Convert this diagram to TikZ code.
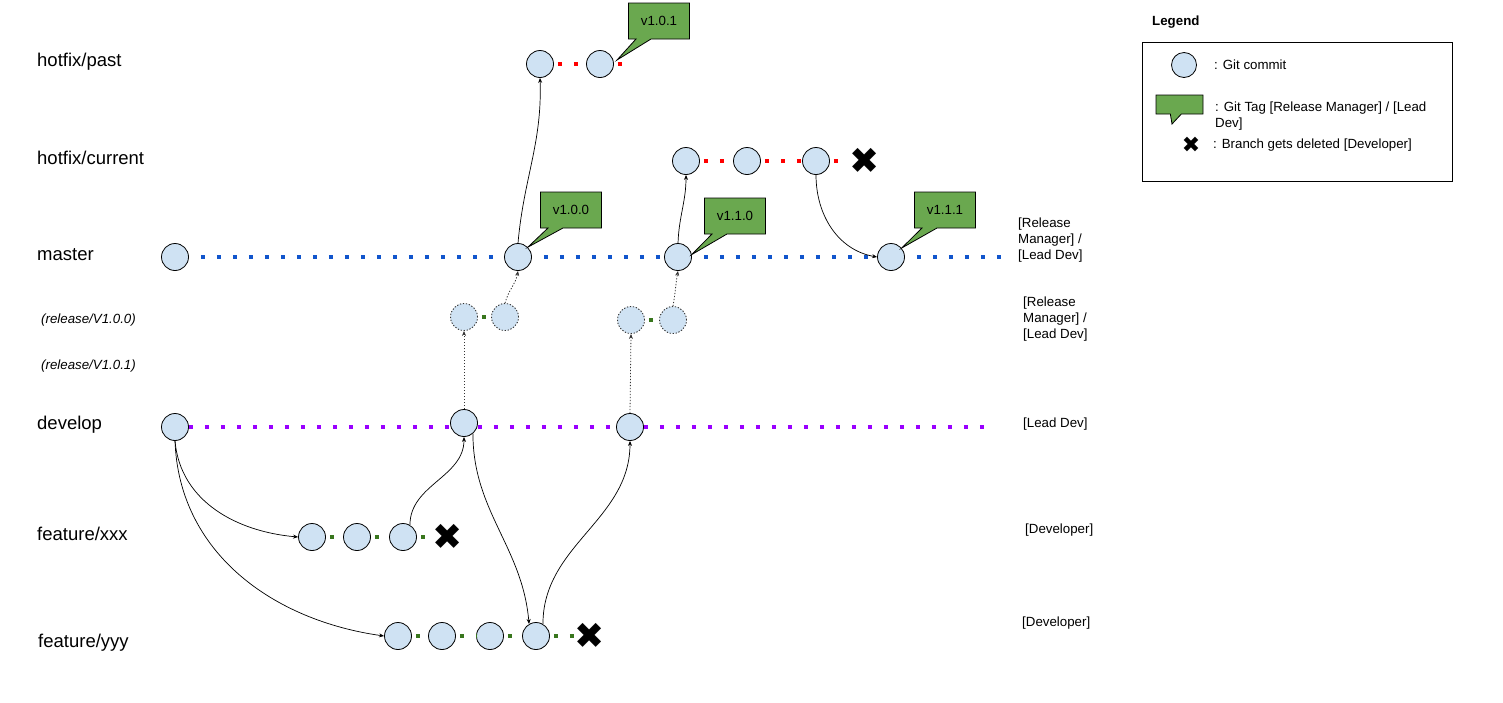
\documentclass[tikz,border=0pt]{standalone}
\usepackage{fontspec}
\setmainfont{Liberation Sans}
\newfontfamily\symfont{DejaVu Sans}
\usetikzlibrary{arrows.meta, positioning, shapes.callouts}
\definecolor{commitfill}{HTML}{CFE2F3}
\definecolor{tagfill}{HTML}{6AA84F}
\definecolor{masterblue}{HTML}{1155CC}
\definecolor{devpurple}{HTML}{9900FF}
\definecolor{hotred}{HTML}{FF0000}
\definecolor{featgreen}{HTML}{38761D}
\newcommand{\brfont}{\fontsize{18.5}{22}\selectfont}
\newcommand{\smfont}{\fontsize{13.3}{16}\selectfont}

\begin{document}
\begin{tikzpicture}[x=1pt, y=1pt,
    commit/.style={circle, draw, fill=commitfill, minimum size=27pt,
                   inner sep=0pt, line width=0.8pt},
    relcommit/.style={commit, draw=black!80, line width=0.9pt,
                      dash pattern=on 1.3pt off 1.7pt},
    tag/.style={rectangle callout, draw, fill=tagfill, minimum width=61pt,
                minimum height=36pt, inner sep=0pt, line width=0.8pt,
                callout pointer width=15pt, font=\smfont},
    gone/.style={inner sep=0pt, font={\symfont\fontsize{36}{36}\selectfont}},
    branch/.style={anchor=west, inner sep=0pt, font=\brfont},
    relbranch/.style={anchor=west, inner sep=0pt, font=\smfont\itshape},
    role/.style={anchor=west, inner sep=0pt, align=left, font=\smfont},
    masterline/.style={draw=masterblue, line width=4pt,
                       dash pattern=on 4pt off 12pt, dash phase=4pt},
    devline/.style={masterline, draw=devpurple, dash phase=0pt},
    hotline/.style={masterline, draw=hotred, dash phase=12pt},
    featline/.style={masterline, draw=featgreen, dash phase=12pt},
    merge/.style={-{Stealth[length=5pt, width=4pt]}, line width=0.7pt},
    relarrow/.style={merge, draw=black!80, line width=0.8pt,
                     dash pattern=on 1.3pt off 1.7pt},
]
\useasboundingbox (0,0) rectangle (1503,-702);

% branch names
\node[branch] (lpast) at (37,-62) {hotfix/past};
\node[branch] (lcurrent) at (37,-158) {hotfix/current};
\node[branch] (lmaster) at (37,-255) {master};
\node[relbranch] (lrel100) at (41,-320) {(release/V1.0.0)};
\node[relbranch] (lrel101) at (41,-366) {(release/V1.0.1)};
\node[branch] (ldevelop) at (37,-425) {develop};
\node[branch] (lxxx) at (37,-534) {feature/xxx};
\node[branch] (lyyy) at (38,-643) {feature/yyy};

% master
\node[commit] (M0) at (175,-257) {};
\node[commit] (M1) at (518,-257) {};
\node[commit] (M2) at (678,-257) {};
\node[commit] (M3) at (891,-257) {};
\coordinate (mEnd) at (1002,-257);
\draw[masterline] (M0) -- (M1);
\draw[masterline] (M1) -- (M2);
\draw[masterline] (M2) -- (M3);
\draw[masterline] (M3) -- (mEnd);

% hotfix/past
\node[commit] (HP1) at (540,-64) {};
\node[commit] (HP2) at (600,-64) {};
\coordinate (pEnd) at (627,-64);
\draw[hotline] (HP1) -- (HP2);
\draw[hotline] (HP2) -- (pEnd);

% hotfix/current
\node[commit] (HC1) at (686,-161) {};
\node[commit] (HC2) at (747,-161) {};
\node[commit] (HC3) at (816,-161) {};
\node[gone] (HCX) at (865,-161) {✖};
\draw[hotline] (HC1) -- (HC2);
\draw[hotline] (HC2) -- (HC3);
\draw[hotline] (HC3) -- (HCX);

% release (temporary)
\node[relcommit] (R1) at (464,-317) {};
\node[relcommit] (R2) at (505,-317) {};
\node[relcommit] (R3) at (631,-320) {};
\node[relcommit] (R4) at (673,-320) {};
\draw[featline] (R1) -- (R2);
\draw[featline] (R3) -- (R4);

% develop
\node[commit] (D0) at (175,-427) {};
\node[commit] (D1) at (464,-423) {};
\node[commit] (D2) at (630,-427) {};
\coordinate (dEnd) at (992,-427);
\draw[devline] (D0.east) -- (D0.east -| D1.west);
\draw[devline] (D1.east |- D2.west) -- (D2.west);
\draw[devline] (D2) -- (dEnd);

% feature/xxx
\node[commit] (F1) at (312,-537) {};
\node[commit] (F2) at (357,-537) {};
\node[commit] (F3) at (403,-537) {};
\node[gone] (FX) at (448,-537) {✖};
\draw[featline] (F1) -- (F2);
\draw[featline] (F2) -- (F3);
\draw[featline] (F3) -- (FX);

% feature/yyy
\node[commit] (G1) at (398,-636) {};
\node[commit] (G2) at (442,-636) {};
\node[commit] (G3) at (490,-636) {};
\node[commit] (G4) at (536,-636) {};
\node[gone] (GX) at (590,-636) {✖};
\draw[featline] (G1) -- (G2);
\draw[featline] (G2) -- (G3);
\draw[featline] (G3) -- (G4);
\draw[featline] (G4) -- (GX);

% merges
\draw[merge] (M1.north) to[out=85, in=-88] (HP1.south);
\draw[merge] (M2.north) to[out=88, in=-90] (HC1.south);
\draw[merge] (HC3.south) to[out=-90, in=170] (M3.west);
\draw[merge] (D0.south) to[out=-85, in=175] (F1.west);
\draw[merge] (D0.south) to[out=-88, in=172] (G1.west);
\draw[merge] (F3.60) to[out=90, in=-90] (D1.south);
\draw[merge] (D1.-50) to[out=-90, in=95] (G4.120);
\draw[merge] (G4.60) to[out=90, in=-90] (D2.south);
\draw[relarrow] (D1.north) -- (R1.south);
\draw[relarrow] (R2.north) to[out=75, in=-100] (M1.south);
\draw[relarrow] (D2.north) -- (R3.south);
\draw[relarrow] (R4.north) to[out=80, in=-100] (M2.south);

% tags
\coordinate (tip101) at (617,-60);
\node[tag, callout absolute pointer={(tip101)}] (T101) at (659,-21) {v1.0.1};
\node[tag, callout absolute pointer={(M1.45)}] (T100) at (571,-210) {v1.0.0};
\node[tag, callout absolute pointer={(M2.10)}] (T110) at (735,-216) {v1.1.0};
\node[tag, callout absolute pointer={(M3.40)}] (T111) at (945,-210) {v1.1.1};

% roles
\node[role] (rmaster) at (1018,-240) {[Release\\Manager] /\\{}[Lead Dev]};
\node[role] (rrelease) at (1023,-319) {[Release\\Manager] /\\{}[Lead Dev]};
\node[role] (rdevelop) at (1023,-424) {[Lead Dev]};
\node[role] (rxxx) at (1025,-530) {[Developer]};
\node[role] (ryyy) at (1022,-623) {[Developer]};

% legend
\node[anchor=west, inner sep=0pt, font=\smfont\bfseries] (legtitle) at (1152,-22) {Legend};
\node[draw, line width=0.8pt, minimum width=310pt, minimum height=139pt, inner sep=0pt] (legbox) at (1297,-111.5) {};
\node[commit, minimum size=25pt] (legcommit) at (1184,-65) {};
\node[role] (legcommittxt) at (1214,-65) {: Git commit};
\coordinate (legtip) at (1172,-124);
\node[tag, minimum width=47pt, minimum height=19pt, callout pointer width=11pt,
      callout absolute pointer={(legtip)}] (legtag) at (1179.5,-104.5) {};
\node[role] (legtagtxt) at (1215,-116) {: Git Tag [Release Manager] / [Lead\\Dev]};
\node[gone, font={\symfont\fontsize{22}{22}\selectfont}] (leggone) at (1191,-145) {✖};
\node[role] (leggonetxt) at (1213,-145) {: Branch gets deleted [Developer]};
\end{tikzpicture}
\end{document}
